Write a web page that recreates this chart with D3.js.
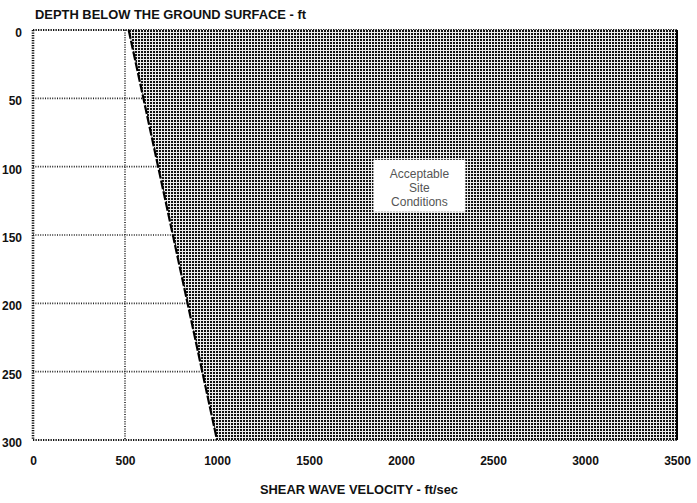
<!DOCTYPE html>
<html>
<head>
<meta charset="utf-8">
<script src="https://cdn.jsdelivr.net/npm/d3@7/dist/d3.min.js"></script>
<style>
  html, body { margin: 0; padding: 0; background: #fff; }
  svg { display: block; }
  text { font-family: "Liberation Sans", Arial, Helvetica, sans-serif; font-weight: bold; fill: #111; }
</style>
</head>
<body>
<svg id="chart" width="697" height="503"></svg>
<script>
// ---- data ----
const xTicks = [0, 500, 1000, 1500, 2000, 2500, 3000, 3500];
const yTicks = [0, 50, 100, 150, 200, 250, 300];
const boundaryDepth = [0, 300];
const boundaryVelocity = [520, 1000];
const labelLines = ["Acceptable", "Site", "Conditions"];
const labelVelocity = [2100];
const labelDepth = [114];
const yTitle = "DEPTH BELOW THE GROUND SURFACE - ft";
const xTitle = "SHEAR WAVE VELOCITY - ft/sec";

// ---- layout ----
const W = 697, H = 503;
const m = { left: 33, top: 30, right: 20, bottom: 63 };
const svg = d3.select("#chart");

const x = d3.scaleLinear().domain([0, 3500]).range([m.left, W - m.right]);
const y = d3.scaleLinear().domain([0, 300]).range([m.top, H - m.bottom]);

const defs = svg.append("defs");
const pat = defs.append("pattern").attr("id", "stip")
  .attr("width", 3).attr("height", 3).attr("patternUnits", "userSpaceOnUse");
pat.append("rect").attr("width", 3).attr("height", 3).attr("fill", "#ececec");
pat.append("rect").attr("width", 2).attr("height", 2).attr("fill", "#111");

// gridlines (dotted)
const grid = svg.append("g");
grid.selectAll("line.h").data(yTicks.slice(1, -1)).join("line")
  .attr("x1", x(0)).attr("x2", x(3500))
  .attr("y1", d => y(d)).attr("y2", d => y(d))
  .attr("stroke", "#222").attr("stroke-width", 1.6).attr("stroke-dasharray", "1,1.4");
grid.selectAll("line.v").data(xTicks.slice(1, -1)).join("line")
  .attr("y1", y(0)).attr("y2", y(300))
  .attr("x1", d => x(d)).attr("x2", d => x(d))
  .attr("stroke", "#222").attr("stroke-width", 1.6).attr("stroke-dasharray", "1,1.4");

// frame (dotted, heavy on left)
const frame = svg.append("g");
frame.append("line").attr("x1", x(0)).attr("x2", x(0)).attr("y1", y(0)).attr("y2", y(300))
  .attr("stroke", "#111").attr("stroke-width", 2.6).attr("stroke-dasharray", "1.3,1.2");
frame.append("line").attr("x1", x(0)).attr("x2", x(3500)).attr("y1", y(0)).attr("y2", y(0))
  .attr("stroke", "#111").attr("stroke-width", 2).attr("stroke-dasharray", "1.3,1.2");
frame.append("line").attr("x1", x(0)).attr("x2", x(3500)).attr("y1", y(300)).attr("y2", y(300))
  .attr("stroke", "#111").attr("stroke-width", 2.2).attr("stroke-dasharray", "1.3,1.2");

// shaded region right of boundary
const pts = boundaryDepth.map((d, i) => [boundaryVelocity[i], d]);
const poly = [[pts[0][0], 0], [3500, 0], [3500, 300], [pts[pts.length - 1][0], 300]];
svg.append("path")
  .attr("d", d3.line().x(d => x(d[0])).y(d => y(d[1]))(poly) + "Z")
  .attr("fill", "url(#stip)");
svg.append("line").attr("x1", x(3500)).attr("x2", x(3500)).attr("y1", y(0)).attr("y2", y(300))
  .attr("stroke", "#000").attr("stroke-width", 2);

// boundary line
svg.append("path")
  .attr("d", d3.line().x(d => x(d[0])).y(d => y(d[1]))(pts))
  .attr("fill", "none").attr("stroke", "#000").attr("stroke-width", 2.2)
  .attr("stroke-dasharray", "9,2");

// label box
const bx = x(labelVelocity[0]), by = y(labelDepth[0]);
const bw = 92, bh = 52;
svg.append("rect").attr("x", bx - bw / 2).attr("y", by - bh / 2)
  .attr("width", bw).attr("height", bh).attr("fill", "#fff");
svg.append("g").selectAll("text").data(labelLines).join("text")
  .attr("x", bx).attr("y", (d, i) => by - 8 + i * 14)
  .attr("text-anchor", "middle").attr("font-size", 12)
  .style("font-weight", "normal").style("fill", "#555")
  .text(d => d);

// axes
const xAxis = d3.axisBottom(x).tickValues(xTicks).tickSize(0).tickPadding(0).tickFormat(d3.format("d"));
const gx = svg.append("g").attr("transform", `translate(0,${y(300) + 25})`).call(xAxis);
gx.select(".domain").remove();
gx.selectAll("text").attr("font-size", 12).attr("dy", 0).attr("fill", "#111")
  .style("font-family", "'Liberation Sans', Arial, sans-serif");

const yAxis = d3.axisLeft(y).tickValues(yTicks).tickSize(0).tickPadding(0).tickFormat(d3.format("d"));
const gy = svg.append("g").attr("transform", `translate(22,0)`).call(yAxis);
gy.select(".domain").remove();
gy.selectAll("text").attr("font-size", 12).attr("dy", "0.55em").attr("fill", "#111")
  .style("font-family", "'Liberation Sans', Arial, sans-serif");

// titles
svg.append("text").attr("x", 35).attr("y", 19).attr("font-size", 12)
  .attr("textLength", 271).attr("lengthAdjust", "spacingAndGlyphs").text(yTitle);
svg.append("text").attr("x", 260).attr("y", 494).attr("font-size", 12)
  .attr("textLength", 198).attr("lengthAdjust", "spacingAndGlyphs").text(xTitle);
</script>
</body>
</html>
